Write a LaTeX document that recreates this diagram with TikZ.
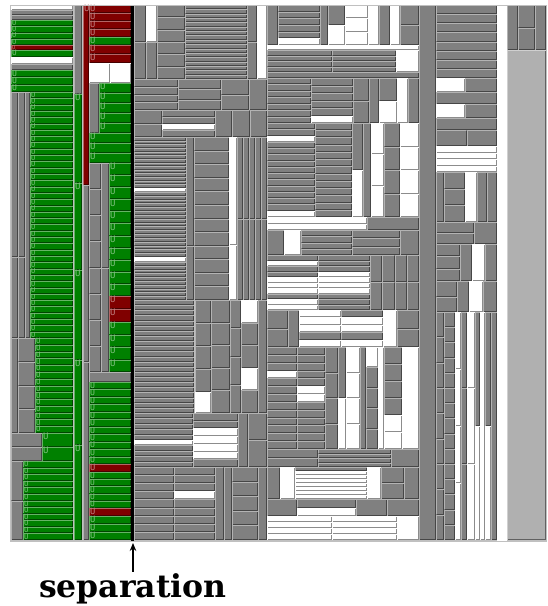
\documentclass[tikz,border=0pt]{standalone}
\usepackage{fontspec}
\setmainfont{DejaVu Serif}
\newfontfamily\tmmono{DejaVu Sans Mono}
\usetikzlibrary{calc,arrows.meta}

\definecolor{tmgray}{RGB}{128,128,128}
\definecolor{tmlight}{RGB}{192,192,192}
\definecolor{tmgreen}{RGB}{0,128,0}
\definecolor{tmred}{RGB}{128,0,0}
\definecolor{tmpale}{RGB}{176,176,176}

% one treemap cell: [colour]{x0}{y0}{x1}{y1}
\newcommand\tmcell[5][tmgray]{%
  \fill[fill=#1] (#2,#3) rectangle (#4,#5);
  \draw[draw=#1!55!black,line width=1pt] ($(#2,#5)+(0.5,-0.5)$) -- ($(#4,#5)+(-0.5,-0.5)$) -- ($(#4,#3)+(-0.5,0.5)$);
  \draw[draw=#1!60!white,line width=0.6pt] ($(#2,#5)+(0.3,-0.3)$) -- ($(#2,#3)+(0.3,0.3)$) -- ($(#4,#3)+(-0.3,0.3)$);}
\newcommand\tmucell[5][tmgreen]{%
  \tmcell[#1]{#2}{#3}{#4}{#5}
  \pgfmathsetmacro\tmfs{min(9,1.1*(#5-#3))}
  \node[ulabel,text=#1!50!white,font=\fontsize{\tmfs}{\tmfs}\selectfont\tmmono] (u) at (#2+1.2,#3+0.3) {U};}
\newcommand\tmrowsx[7]{%
  \pgfmathsetmacro\tmh{(#6-#4)/#7}
  \foreach \k in {1,...,#7}{
    \pgfmathsetmacro\ya{#4+(\k-1)*\tmh}
    \pgfmathsetmacro\yb{#4+\k*\tmh}
    #1[#2]{#3}{\ya}{#5}{\yb}}}
\newcommand\tmcolsx[7]{%
  \pgfmathsetmacro\tmw{(#5-#3)/#7}
  \foreach \k in {1,...,#7}{
    \pgfmathsetmacro\xa{#3+(\k-1)*\tmw}
    \pgfmathsetmacro\xb{#3+\k*\tmw}
    #1[#2]{\xa}{#4}{\xb}{#6}}}
\newcommand\tmrows[6][tmgray]{\tmrowsx\tmcell{#1}{#2}{#3}{#4}{#5}{#6}}
\newcommand\tmurows[6][tmgreen]{\tmrowsx\tmucell{#1}{#2}{#3}{#4}{#5}{#6}}
\newcommand\tmcols[6][tmgray]{\tmcolsx\tmcell{#1}{#2}{#3}{#4}{#5}{#6}}
\newcommand\tmmix[5]{%
  \foreach \c [count=\n] in {#5}{\xdef\tmn{\n}}
  \pgfmathsetmacro\tmh{(#4-#2)/\tmn}
  \foreach \c [count=\k] in {#5}{
    \pgfmathsetmacro\ya{#2+(\k-1)*\tmh}
    \pgfmathsetmacro\yb{#2+\k*\tmh}
    \tmcell[\c]{#1}{\ya}{#3}{\yb}}}

\begin{document}
\begin{tikzpicture}[x=1pt,y=-1pt,
  ulabel/.style={anchor=north west,inner sep=0pt,outer sep=0pt},
  seplabel/.style={font=\bfseries\fontsize{31.5}{31.5}\selectfont,inner sep=1pt},
  separrow/.style={-{Stealth[length=8pt,width=6.5pt]},line width=1.3pt}]
\useasboundingbox (0,0) rectangle (548,606);
\fill[tmlight] (10,5) rectangle (546,541);

% left part
\tmrows[white]{11}{5}{73}{10}{1}
\tmrows{11}{10}{73}{20}{2}
\tmurows{11}{20}{73}{45}{4}
\tmurows[tmred]{11}{45}{73}{50}{1}
\tmurows{11}{50}{73}{57}{1}
\tmrows[white]{11}{57}{73}{64}{1}
\tmrows{11}{64}{73}{70}{1}
\tmurows{11}{70}{73}{92}{3}
\tmcols{11}{92}{25}{257}{2}
\tmcols{11}{257}{25}{338}{2}
\tmcell{25}{92}{30}{338}
\tmurows{30}{92}{73}{338}{39}
\tmcell{11}{338}{18}{433}
\tmrows{18}{338}{35}{433}{4}
\tmurows{35}{338}{73}{433}{14}
\tmrows{11}{433}{42}{461}{2}
\tmurows{42}{433}{73}{461}{2}
\tmrows{11}{461}{23}{540}{2}
\tmurows{23}{461}{73}{540}{12}
\tmcell{74}{5}{82}{94}
\foreach \ya/\yb in {94/183,183/270,270/360,360/445,445/540}
  \tmucell{74}{\ya}{82}{\yb};
\tmucell[tmred]{83}{5}{89}{185}
\tmcell{83}{185}{89}{362}
\tmcell{83}{362}{89}{540}
\tmurows[tmred]{89}{5}{131}{37}{4}
\tmurows{89}{37}{131}{45}{1}
\tmurows[tmred]{89}{45}{131}{63}{2}
\tmcols[white]{89}{63}{131}{83}{2}
\tmcell{89}{83}{99}{133}
\tmurows{99}{83}{131}{133}{5}
\tmurows{89}{133}{131}{163}{3}
\tmrows{89}{163}{101}{372}{8}
\tmcell{101}{163}{109}{268}
\tmcell{101}{268}{109}{372}
\tmurows{109}{163}{131}{296}{11}
\tmurows[tmred]{109}{296}{131}{322}{2}
\tmurows{109}{322}{131}{372}{4}
\tmcell{89}{372}{131}{382}
\tmurows{89}{382}{131}{464}{11}
\tmurows[tmred]{89}{464}{131}{472}{1}
\tmurows{89}{472}{131}{508}{5}
\tmurows[tmred]{89}{508}{131}{516}{1}
\tmurows{89}{516}{131}{540}{3}
\fill[black] (131,5) rectangle (134,541);

% middle part, left half
\tmrows{134}{5}{146}{79}{2}
\tmrows[white]{146}{5}{157}{42}{1}
\tmcell{146}{42}{157}{79}
\tmrows{157}{5}{185}{79}{6}
\tmrows{185}{5}{247}{79}{17}
\tmrows{247}{5}{257}{79}{2}
\tmrows[white]{257}{5}{267}{79}{1}
\tmrows{134}{79}{178}{110}{4}
\tmrows{178}{79}{221}{110}{3}
\tmrows{221}{79}{249}{110}{2}
\tmcell{249}{79}{267}{110}
\tmrows{134}{110}{162}{137}{2}
\tmmix{162}{110}{215}{137}{tmgray,tmgray,white,tmgray}
\tmcols{215}{110}{267}{137}{3}
\tmrows{134}{137}{186}{188}{14}
\tmrows[white]{134}{188}{186}{192}{1}
\tmrows{134}{192}{186}{257}{17}
\tmrows[white]{134}{257}{186}{262}{1}
\tmrows{134}{262}{186}{300}{10}
\tmcell{186}{137}{194}{246}
\tmcell{186}{246}{194}{300}
\tmrows{194}{137}{229}{300}{12}
\tmrows[white]{229}{137}{237}{245}{1}
\tmrows[white]{229}{245}{237}{300}{1}
\tmcols{237}{137}{267}{219}{5}
\tmcols{237}{219}{267}{300}{5}
\tmrows{134}{300}{194}{413}{22}
\tmrows{195}{300}{211}{392}{4}
\tmrows[white]{195}{392}{211}{413}{1}
\tmrows{211}{300}{230}{413}{5}
\tmrows{230}{300}{241}{413}{4}
\tmmix{241}{300}{258}{413}{white,tmgray,tmgray,white,tmgray}
\tmcell{258}{300}{267}{413}
\tmmix{134}{413}{193}{467}{tmgray,tmgray,tmgray,tmgray,tmgray,white,tmgray,tmgray,tmgray,tmgray}
\tmmix{193}{413}{238}{467}{tmgray,tmgray,white,white,white,white,tmgray}
\tmcell{238}{413}{248}{467}
\tmrows{248}{413}{267}{467}{2}
\tmrows{134}{467}{174}{540}{9}
\tmmix{174}{467}{215}{540}{tmgray,tmgray,tmgray,white,tmgray,tmgray,tmgray,tmgray,tmgray}
\tmcols{215}{467}{232}{540}{2}
\tmrows{232}{467}{258}{540}{5}
\tmcell{258}{467}{267}{540}

% middle part, right half
\tmcell{267}{5}{278}{45}
\tmmix{278}{5}{320}{45}{tmgray,tmgray,tmgray,tmgray,tmgray,white}
\tmcell{320}{5}{328}{45}
\tmmix{328}{5}{345}{45}{tmgray,white}
\tmrows[white]{345}{5}{368}{45}{3}
\tmrows[white]{368}{5}{379}{45}{1}
\tmcell{379}{5}{390}{45}
\tmrows[white]{390}{5}{400}{45}{1}
\tmrows{400}{5}{419}{45}{2}
\tmrows[white]{267}{45}{419}{50}{1}
\tmrows{267}{50}{332}{72}{4}
\tmrows{332}{50}{396}{72}{4}
\tmrows[white]{396}{50}{419}{72}{1}
\tmcell{267}{72}{419}{78}
\tmrows{267}{78}{311}{123}{7}
\tmmix{311}{78}{353}{123}{tmgray,tmgray,tmgray,tmgray,tmgray,white}
\tmrows{353}{78}{369}{123}{2}
\tmcell{369}{78}{379}{123}
\tmmix{379}{78}{397}{123}{tmgray,white}
\tmrows[white]{397}{78}{408}{123}{1}
\tmcell{408}{78}{419}{123}
\tmmix{267}{123}{315}{217}{tmgray,tmgray,white,tmgray,tmgray,tmgray,tmgray,tmgray,tmgray,tmgray,tmgray,tmgray,tmgray,tmgray,white}
\tmrows{315}{123}{352}{217}{13}
\tmmix{352}{123}{363}{217}{tmgray,white}
\tmcell{363}{123}{371}{217}
\tmrows[white]{371}{123}{384}{217}{3}
\tmrows{384}{123}{400}{217}{4}
\tmrows[white]{400}{123}{419}{217}{4}
\tmrows[white]{267}{217}{367}{230}{2}
\tmcell{367}{217}{419}{230}
\tmcell{267}{230}{284}{255}
\tmrows[white]{284}{230}{301}{255}{1}
\tmrows{301}{230}{352}{255}{4}
\tmrows{352}{230}{400}{255}{3}
\tmcell{400}{230}{419}{255}
\tmmix{267}{255}{318}{310}{tmgray,white,tmgray,tmgray,white,white,white,tmgray,white,white}
\tmmix{318}{255}{370}{310}{tmgray,tmgray,tmgray,white,white,white,white,tmgray,tmgray,tmgray}
\tmcols{370}{255}{419}{282}{4}
\tmcols{370}{282}{419}{310}{4}
\tmrows{267}{310}{288}{347}{2}
\tmcell{288}{310}{299}{347}
\tmmix{299}{310}{341}{347}{white,white,white,tmgray,white}
\tmmix{341}{310}{383}{347}{tmgray,white,white,tmgray,white}
\tmrows[white]{383}{310}{397}{347}{1}
\tmrows{397}{310}{419}{347}{2}
\tmmix{267}{347}{297}{449}{tmgray,tmgray,tmgray,white,tmgray,tmgray,tmgray,tmgray,tmgray,tmgray,tmgray,tmgray,tmgray}
\tmmix{297}{347}{325}{449}{tmgray,tmgray,tmgray,tmgray,tmgray,white,white,tmgray,tmgray,tmgray,tmgray,tmgray,tmgray}
\tmrows{325}{347}{338}{449}{4}
\tmmix{338}{347}{346}{449}{tmgray,white}
\tmrows[white]{346}{347}{360}{449}{4}
\tmcell{360}{347}{366}{449}
\tmmix{366}{347}{378}{449}{white,tmgray,tmgray,tmgray,tmgray}
\tmrows[white]{378}{347}{384}{449}{1}
\tmmix{384}{347}{402}{449}{tmgray,tmgray,tmgray,tmgray,white,white}
\tmrows[white]{402}{347}{419}{449}{1}
\tmrows{267}{449}{318}{467}{2}
\tmrows{318}{449}{391}{467}{4}
\tmcell{391}{449}{419}{467}
\tmcell{267}{467}{280}{499}
\tmrows[white]{280}{467}{295}{499}{1}
\tmmix{295}{467}{367}{499}{tmgray,white,white,white,white,white,white,white}
\tmrows[white]{367}{467}{381}{499}{1}
\tmrows{381}{467}{404}{499}{2}
\tmcell{404}{467}{419}{499}
\tmcell{267}{499}{297}{516}
\tmmix{297}{499}{356}{516}{tmgray,white}
\tmcell{356}{499}{387}{516}
\tmcell{387}{499}{419}{516}
\tmrows[white]{267}{516}{332}{540}{4}
\tmrows[white]{332}{516}{397}{540}{4}
\tmrows[white]{397}{516}{419}{540}{1}

% right part
\tmcell{419}{5}{436}{540}
\tmrows{436}{5}{497}{78}{8}
\tmrows[white]{436}{78}{465}{92}{1}
\tmcell{465}{78}{497}{92}
\tmcell{436}{92}{497}{104}
\tmrows[white]{436}{104}{465}{118}{1}
\tmcell{465}{104}{497}{118}
\tmcell{436}{118}{497}{130}
\tmcols{436}{130}{497}{146}{2}
\tmrows[white]{436}{146}{497}{172}{4}
\tmcell{436}{172}{444}{222}
\tmrows{444}{172}{465}{222}{3}
\tmrows[white]{465}{172}{477}{222}{1}
\tmcols{477}{172}{497}{222}{2}
\tmrows{436}{222}{474}{244}{2}
\tmcell{474}{222}{497}{244}
\tmrows{436}{244}{460}{281}{3}
\tmcell{460}{244}{472}{281}
\tmrows[white]{472}{244}{485}{281}{1}
\tmcell{485}{244}{497}{281}
\tmrows{436}{281}{457}{312}{2}
\tmcell{457}{281}{469}{312}
\tmrows[white]{469}{281}{483}{312}{1}
\tmcell{483}{281}{497}{312}
\tmrows{436}{312}{444}{540}{9}
\tmrows{444}{312}{455}{540}{15}
\tmrows[white]{455}{312}{461}{540}{4}
\tmrows{461}{312}{467}{540}{3}
\tmrows[white]{467}{312}{475}{540}{3}
\tmmix{475}{312}{480}{540}{tmgray,white}
\tmrows[white]{480}{312}{485}{540}{1}
\tmmix{485}{312}{491}{540}{tmgray,white}
\tmcell{491}{312}{497}{540}
\fill[white] (497,5) rectangle (507,541);
\tmcell{507}{5}{518}{50}
\tmrows{518}{5}{535}{50}{2}
\tmcell{535}{5}{546}{50}
\tmcell[tmpale]{507}{50}{546}{540}
\draw[tmlight,line width=1pt] (10,5) rectangle (546,541);

\node[seplabel,anchor=base] (sep) at (133,597) {separation};
\coordinate (sepfoot) at (133,543);
\draw[separrow] (sep.north) -- (sepfoot);
\end{tikzpicture}
\end{document}
